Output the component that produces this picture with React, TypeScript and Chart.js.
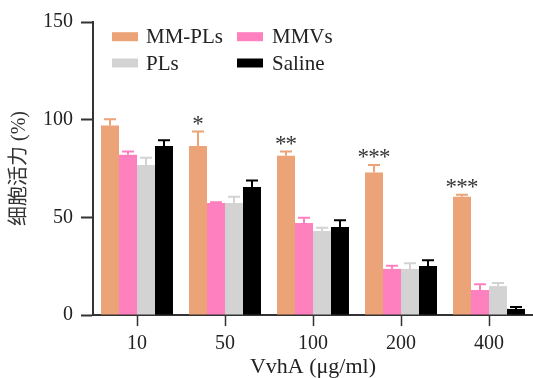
import React, { useEffect, useRef } from "react";
import { Chart, registerables } from "chart.js";

Chart.register(...registerables);

const categories = ["10", "50", "100", "200", "400"];
const seriesNames = ["MM-PLs", "MMVs", "PLs", "Saline"];
const seriesColors = ["#EBA377", "#FF80BF", "#D3D3D3", "#000000"];
const mmPLs = [97, 86.5, 81.5, 73, 60.5];
const mmPLsErr = [3.2, 7.4, 2.2, 3.8, 1];
const mmvs = [82, 57.3, 47.1, 23.6, 12.8];
const mmvsErr = [1.7, 0.4, 2.7, 1.6, 2.9];
const pls = [76.8, 57.3, 43, 23.6, 14.8];
const plsErr = [3.7, 3.3, 1.7, 2.9, 1.6];
const saline = [86.5, 65.5, 45.1, 25.1, 3.1];
const salineErr = [3, 3.4, 3.4, 2.9, 1];
const significance = ["", "*", "**", "***", "***"];
const yTicks = [0, 50, 100, 150];

const seriesValues = [mmPLs, mmvs, pls, saline];
const seriesErrors = [mmPLsErr, mmvsErr, plsErr, salineErr];

const SERIF = "'Liberation Serif', 'Times New Roman', serif";
const AXIS = "#333333";

const errorBarPlugin = {
  id: "errorBars",
  afterDatasetsDraw(chart: any) {
    const ctx = chart.ctx;
    const y = chart.scales.y;
    chart.data.datasets.forEach((ds: any, di: number) => {
      const meta = chart.getDatasetMeta(di);
      const errs = seriesErrors[di];
      meta.data.forEach((bar: any, i: number) => {
        const v = ds.data[i];
        const top = y.getPixelForValue(v + errs[i]);
        const base = y.getPixelForValue(v);
        ctx.save();
        ctx.strokeStyle = ds.backgroundColor;
        ctx.lineWidth = 2;
        ctx.beginPath();
        ctx.moveTo(bar.x, base);
        ctx.lineTo(bar.x, top);
        ctx.moveTo(bar.x - 6, top);
        ctx.lineTo(bar.x + 6, top);
        ctx.stroke();
        ctx.restore();
      });
    });
    // significance stars above MM-PLs bars
    const meta0 = chart.getDatasetMeta(0);
    ctx.save();
    ctx.font = `23px ${SERIF}`;
    ctx.fillStyle = "#333";
    ctx.textAlign = "center";
    const step = 10.7;
    significance.forEach((s, i) => {
      if (!s) return;
      const bar = meta0.data[i];
      const top = y.getPixelForValue(mmPLs[i] + mmPLsErr[i]);
      const cy = top - 11.5;
      const m = ctx.measureText("*");
      const a = m.actualBoundingBoxAscent;
      const d = m.actualBoundingBoxDescent;
      const n = s.length;
      for (let k = 0; k < n; k++) {
        const cx = bar.x + (k - (n - 1) / 2) * step;
        ctx.fillText("*", cx, cy + (a - d) / 2);
      }
    });
    ctx.restore();
  },
};

const legendPlugin = {
  id: "customLegend",
  afterDraw(chart: any) {
    const ctx = chart.ctx;
    const positions = [
      [112, 36.7, 146],
      [237, 36.7, 272],
      [112, 63, 146],
      [237, 63, 272],
    ];
    ctx.save();
    ctx.font = `21px ${SERIF}`;
    ctx.textBaseline = "middle";
    ctx.textAlign = "left";
    seriesNames.forEach((name, i) => {
      const [bx, cy, tx] = positions[i];
      ctx.fillStyle = seriesColors[i];
      ctx.fillRect(bx, cy - 4.5, 26, 9);
      ctx.fillStyle = "#222";
      ctx.fillText(name, tx, cy + 1);
    });
    ctx.restore();
  },
};

export default function App() {
  const ref = useRef<HTMLCanvasElement>(null);
  useEffect(() => {
    document.body.style.margin = "0";
    const chart = new Chart(ref.current as HTMLCanvasElement, {
      type: "bar",
      data: {
        labels: categories,
        datasets: seriesNames.map((name, i) => ({
          label: name,
          data: seriesValues[i],
          backgroundColor: seriesColors[i],
          borderWidth: 0,
          categoryPercentage: 0.818,
          barPercentage: 1,
        })),
      },
      options: {
        responsive: false,
        animation: false,
        layout: { padding: { top: 22, left: 0, right: 0, bottom: 0 } },
        plugins: {
          legend: { display: false },
          tooltip: { enabled: false },
        },
        scales: {
          x: {
            grid: {
              display: true,
              drawOnChartArea: false,
              drawTicks: true,
              tickLength: 11,
              tickWidth: 1.5,
              tickColor: AXIS,
              offset: false,
            },
            border: { display: true, color: AXIS, width: 2 },
            ticks: {
              color: "#222",
              font: { family: SERIF, size: 20 },
              padding: 6,
            },
            title: {
              display: true,
              text: "VvhA (μg/ml)",
              color: "#222",
              font: { family: SERIF, size: 22, lineHeight: 1 },
              padding: { top: 0, bottom: 0 },
            },
            afterFit(scale: any) {
              scale.height = 63;
            },
          },
          y: {
            min: 0,
            max: 150,
            afterBuildTicks(scale: any) {
              scale.ticks = yTicks.map((v) => ({ value: v }));
            },
            grid: {
              display: true,
              drawOnChartArea: false,
              drawTicks: true,
              tickLength: 12,
              tickWidth: 2,
              tickColor: AXIS,
            },
            border: { display: true, color: AXIS, width: 2 },
            ticks: {
              color: "#222",
              font: { family: SERIF, size: 20 },
              padding: 8,
            },
            title: {
              display: true,
              text: "细胞活力 (%)",
              color: "#333",
              font: { family: "'Liberation Serif', 'Noto Sans CJK SC', serif", size: 20, lineHeight: 1.2 },
              padding: { top: 8, bottom: 0 },
            },
            afterFit(scale: any) {
              scale.width = 93;
            },
          },
        },
      },
      plugins: [errorBarPlugin, legendPlugin],
    });
    return () => chart.destroy();
  }, []);
  return <canvas ref={ref} width={533} height={378} style={{ display: "block" }} />;
}
